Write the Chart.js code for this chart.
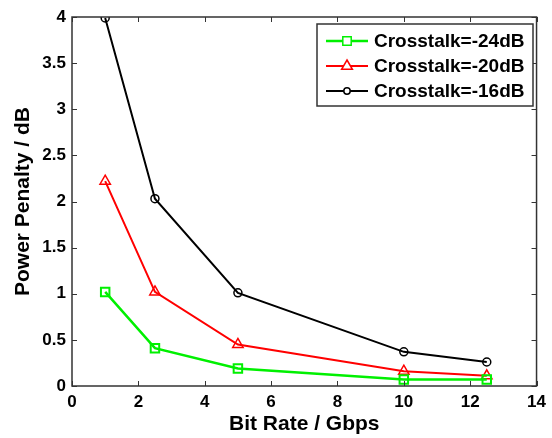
<!DOCTYPE html>
<html>
<head>
<meta charset="utf-8">
<script src="https://cdn.jsdelivr.net/npm/chart.js@4"></script>
<style>
  html, body { margin: 0; padding: 0; background: #fff; }
  #wrap { width: 552px; height: 438px; position: relative; }
</style>
</head>
<body>
<div id="wrap"><canvas id="chart" width="552" height="438"></canvas></div>
<script>
// ── Data ────────────────────────────────────────────────────────────────
const bitRates   = [1, 2.5, 5, 10, 12.5];
const xt24       = [1.02, 0.41, 0.19, 0.07, 0.07];
const xt20       = [2.22, 1.02, 0.45, 0.16, 0.11];
const xt16       = [3.99, 2.03, 1.01, 0.37, 0.26];
const seriesNames = ['Crosstalk=-24dB', 'Crosstalk=-20dB', 'Crosstalk=-16dB'];
const xTicks     = [0, 2, 4, 6, 8, 10, 12, 14];
const yTicks     = [0, 0.5, 1, 1.5, 2, 2.5, 3, 3.5, 4];

const FONT = "'Liberation Sans', Arial, sans-serif";
const AXIS_CLR = '#333';

function pts(ys) { return bitRates.map((x, i) => ({ x, y: ys[i] })); }

// ── Inward ticks, box and legend ──────────────────────────────────────
const frame = {
  id: 'frame',
  afterDraw(chart) {
    const { ctx, chartArea: a, scales: { x, y } } = chart;
    ctx.save();
    ctx.strokeStyle = AXIS_CLR;
    ctx.lineWidth = 1.5;
    ctx.strokeRect(a.left, a.top, a.right - a.left, a.bottom - a.top);
    ctx.lineWidth = 1;
    const L = 5;
    xTicks.forEach(v => {
      const px = Math.round(x.getPixelForValue(v)) + 0.5;
      ctx.beginPath();
      ctx.moveTo(px, a.bottom); ctx.lineTo(px, a.bottom - L);
      ctx.moveTo(px, a.top); ctx.lineTo(px, a.top + L);
      ctx.stroke();
    });
    yTicks.forEach(v => {
      const py = Math.round(y.getPixelForValue(v)) + 0.5;
      ctx.beginPath();
      ctx.moveTo(a.left, py); ctx.lineTo(a.left + L, py);
      ctx.moveTo(a.right, py); ctx.lineTo(a.right - L, py);
      ctx.stroke();
    });

    // legend box
    const bx = 317, by = 24, bw = 216, bh = 82;
    ctx.fillStyle = '#fff';
    ctx.fillRect(bx, by, bw, bh);
    ctx.strokeStyle = AXIS_CLR;
    ctx.lineWidth = 1.5;
    ctx.strokeRect(bx, by, bw, bh);
    ctx.font = 'bold 19px ' + FONT;
    ctx.textBaseline = 'middle';
    chart.data.datasets.forEach((ds, i) => {
      const ly = 41 + i * 25;
      ctx.strokeStyle = ds.borderColor;
      ctx.lineWidth = ds.borderWidth;
      ctx.beginPath();
      ctx.moveTo(326, ly); ctx.lineTo(368, ly);
      ctx.stroke();
      ctx.lineWidth = 1.5;
      ctx.fillStyle = '#fff';
      const r = ds.pointRadius;
      ctx.beginPath();
      if (ds.pointStyle === 'rect') {
        ctx.rect(347 - r * 0.7, ly - r * 0.7, r * 1.4, r * 1.4);
      } else if (ds.pointStyle === 'triangle') {
        ctx.moveTo(347, ly - r); ctx.lineTo(347 + r * 0.9, ly + r * 0.55); ctx.lineTo(347 - r * 0.9, ly + r * 0.55); ctx.closePath();
      } else {
        ctx.arc(347, ly, r * 0.8, 0, Math.PI * 2);
      }
      ctx.fill(); ctx.stroke();
      ctx.fillStyle = '#000';
      ctx.fillText(ds.label, 374, ly + 1);
    });
    ctx.restore();
  }
};

Chart.defaults.font.family = FONT;
Chart.defaults.color = '#000';

new Chart(document.getElementById('chart'), {
  type: 'scatter',
  data: {
    datasets: [
      { label: seriesNames[0], data: pts(xt24), borderColor: '#00f000', backgroundColor: 'rgba(0,0,0,0)',
        borderWidth: 2.5, pointStyle: 'rect', pointRadius: 6, pointBorderWidth: 2, showLine: true },
      { label: seriesNames[1], data: pts(xt20), borderColor: '#ff0000', backgroundColor: 'rgba(0,0,0,0)',
        borderWidth: 2, pointStyle: 'triangle', pointRadius: 6, pointBorderWidth: 1.5, showLine: true },
      { label: seriesNames[2], data: pts(xt16), borderColor: '#000000', backgroundColor: 'rgba(0,0,0,0)',
        borderWidth: 2, pointStyle: 'circle', pointRadius: 4, pointBorderWidth: 1.5, showLine: true },
    ]
  },
  options: {
    responsive: false,
    animation: false,
    layout: { padding: { top: 17, right: 11, left: 0, bottom: 0 } },
    plugins: { legend: { display: false }, tooltip: { enabled: false } },
    scales: {
      x: {
        type: 'linear', min: 0, max: 14,
        afterBuildTicks: s => { s.ticks = xTicks.map(v => ({ value: v })); },
        afterFit: s => { s.height = 52; },
        grid: { display: false, drawTicks: false },
        border: { display: false },
        ticks: { font: { size: 17, weight: 'bold' }, color: '#000', padding: 6, maxRotation: 0,
                 callback: v => String(v) },
        title: { display: true, text: 'Bit Rate / Gbps', font: { size: 21, weight: 'bold' }, color: '#000',
                 padding: { top: 0, bottom: 1 } }
      },
      y: {
        type: 'linear', min: 0, max: 4,
        afterBuildTicks: s => { s.ticks = yTicks.map(v => ({ value: v })); },
        afterFit: s => { s.width = 72; },
        grid: { display: false, drawTicks: false },
        border: { display: false },
        ticks: { font: { size: 17, weight: 'bold' }, color: '#000', padding: 6,
                 callback: v => String(v) },
        title: { display: true, text: 'Power Penalty / dB', font: { size: 21, weight: 'bold' }, color: '#000',
                 padding: { top: 11, bottom: 0 } }
      }
    }
  },
  plugins: [frame]
});
</script>
</body>
</html>
